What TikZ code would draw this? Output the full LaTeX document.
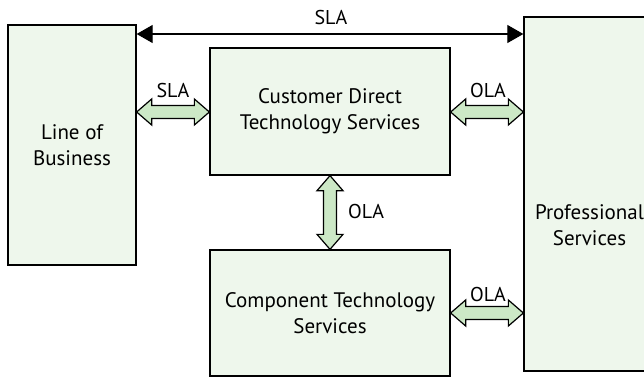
\documentclass[tikz,border=0pt]{standalone}
\usepackage{fontspec}
\setmainfont{PT Sans}
\usetikzlibrary{arrows.meta,calc}
\definecolor{boxfill}{HTML}{EEF7EC}
\definecolor{arrowfill}{HTML}{CCE8C6}
\tikzset{
  box/.style={draw=black, line width=1.3pt, fill=boxfill, inner sep=0pt, align=center,
    font=\fontsize{21}{26}\selectfont},
  lbl/.style={inner sep=0pt, font=\fontsize{20}{26}\selectfont},
  harrow/.style={draw=black, line width=1.2pt, fill=arrowfill, line join=miter,
    to path={let \p1=(\tikztostart), \p2=(\tikztotarget) in
      (\x1,\y1) -- (\x1+15pt,\y1+13pt) -- (\x1+15pt,\y1+6.5pt) -- (\x2-15pt,\y2+6.5pt)
      -- (\x2-15pt,\y2+13pt) -- (\x2,\y2) -- (\x2-15pt,\y2-13pt) -- (\x2-15pt,\y2-6.5pt)
      -- (\x1+15pt,\y1-6.5pt) -- (\x1+15pt,\y1-13pt) -- cycle}},
  varrow/.style={draw=black, line width=1.2pt, fill=arrowfill, line join=miter,
    to path={let \p1=(\tikztostart), \p2=(\tikztotarget) in
      (\x1,\y1) -- (\x1+13pt,\y1-15pt) -- (\x1+6.5pt,\y1-15pt) -- (\x2+6.5pt,\y2+15pt)
      -- (\x2+13pt,\y2+15pt) -- (\x2,\y2) -- (\x2-13pt,\y2+15pt) -- (\x2-6.5pt,\y2+15pt)
      -- (\x1-6.5pt,\y1-15pt) -- (\x1-13pt,\y1-15pt) -- cycle}},
  slaline/.style={line width=1.2pt, {Triangle[length=16pt,width=18pt]}-{Triangle[length=16pt,width=18pt]}}
}
\begin{document}
\begin{tikzpicture}[x=1pt,y=-1pt]
\useasboundingbox (0,0) rectangle (644,377);
\clip (0,0) rectangle (644,377);
% boxes
\node[box, minimum width=128pt, minimum height=240pt] (lob) at (72,145) {Line of\\Business};
\node[box, minimum width=240pt, minimum height=127pt] (cdts) at (330,111.5) {Customer Direct\\Technology Services};
\node[box, minimum width=240pt, minimum height=126pt] (cts) at (330,313) {Component Technology\\Services};
\node[box, minimum width=131pt, minimum height=354pt] (prof) at (589.5,194) {};
\node[lbl, align=center, font=\fontsize{21}{26}\selectfont] (proftext) at (589.5,225) {Professional\\Services};
% top SLA
\coordinate (t1) at (lob.east |- 0,34);
\coordinate (t2) at (prof.west |- 0,34);
\draw[slaline] (t1) -- (t2);
\node[lbl] (slatop) at (331,18) {SLA};
% green arrows
\coordinate (a1) at (lob.east |- 0,112);
\coordinate (a2) at (cdts.west |- 0,112);
\draw[harrow] (a1) to (a2);
\node[lbl] (sla1) at (173,91) {SLA};
\coordinate (b1) at (cdts.east |- 0,112);
\coordinate (b2) at (prof.west |- 0,112);
\draw[harrow] (b1) to (b2);
\node[lbl] (ola1) at (488,91) {OLA};
\coordinate (c1) at (cts.east |- 0,313);
\coordinate (c2) at (prof.west |- 0,313);
\draw[harrow] (c1) to (c2);
\node[lbl] (ola2) at (488,294) {OLA};
\coordinate (v1) at (cdts.south);
\coordinate (v2) at (cts.north);
\draw[varrow] (v1) to (v2);
\node[lbl, anchor=west] (ola3) at (348,211) {OLA};
\end{tikzpicture}
\end{document}
